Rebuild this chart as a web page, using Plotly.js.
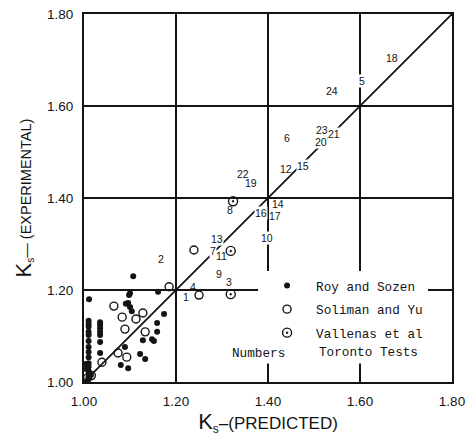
<!DOCTYPE html>
<html><head><meta charset="utf-8">
<script src="https://cdn.plot.ly/plotly-3.0.1.min.js"></script>
<style>html,body{margin:0;padding:0;background:#fff}</style>
</head><body><div id="chart" style="width:472px;height:440px"></div>
<script>
// Roy and Sozen (filled dots)
const roySozenX = [1.011,1.010,1.010,1.010,1.010,1.010,1.010,1.010,1.010,1.010,1.010,1.010,1.010,1.010,1.010,1.004,1.005,1.015,1.008,
  1.035,1.035,1.035,1.035,1.035,1.035,1.035,
  1.107,1.100,1.098,1.096,1.091,1.100,1.104,1.161,1.174,1.159,1.159,1.148,1.152,1.128,1.089,1.122,1.133,1.080,1.096];
const roySozenY = [1.180,1.133,1.126,1.120,1.109,1.102,1.089,1.076,1.065,1.054,1.041,1.033,1.024,1.017,1.011,1.039,1.028,1.015,1.004,
  1.130,1.124,1.117,1.109,1.102,1.087,1.063,
  1.230,1.193,1.189,1.172,1.170,1.163,1.154,1.196,1.148,1.128,1.109,1.093,1.089,1.091,1.076,1.061,1.050,1.037,1.030];
// Soliman and Yu (open circles)
const solimanYuX = [1.185,1.065,1.083,1.113,1.128,1.089,1.133,1.074,1.093,1.039,0.998,1.008,1.016,1.239,1.250];
const solimanYuY = [1.207,1.165,1.141,1.137,1.150,1.115,1.109,1.063,1.054,1.043,0.998,1.009,1.014,1.287,1.189];
// Vallenas et al (circle with dot)
const vallenasX = [1.319,1.319,1.324];
const vallenasY = [1.285,1.191,1.393];
// Toronto Tests (numbers)
const torontoLabels = ["1","2","3","4","5","6","7","8","9","10","11","12","13","14","15","16","17","18","19","20","21","22","23","24"];
const torontoX = [1.222,1.167,1.315,1.237,1.604,1.441,1.280,1.317,1.293,1.398,1.299,1.439,1.289,1.422,1.476,1.385,1.415,1.670,1.362,1.515,1.544,1.346,1.517,1.539];
const torontoY = [1.185,1.267,1.217,1.207,1.654,1.530,1.285,1.374,1.235,1.313,1.273,1.463,1.311,1.388,1.470,1.367,1.361,1.704,1.432,1.521,1.539,1.453,1.548,1.633];
// labels that interrupt the lines they sit on
const gapLabels = ["5","10","15","20","21","16","13","7"];
// line of equality
const equalX = [1.0,1.8];
const equalY = [1.0,1.8];
const tickVals = [1.0,1.2,1.4,1.6,1.8];
const tickLabels = ["1.00","1.20","1.40","1.60","1.80"];

const INK = '#141414';
const traces = [
  {x: equalX, y: equalY, mode: 'lines', line: {color: INK, width: 1.8}, showlegend: false, hoverinfo: 'skip'},
  {x: roySozenX, y: roySozenY, mode: 'markers', name: 'Roy and Sozen', legendgroup: 'a',
   marker: {symbol: 'circle', size: 6, color: INK}, cliponaxis: false},
  {x: solimanYuX, y: solimanYuY, mode: 'markers', name: 'Soliman and Yu', legendgroup: 'b',
   marker: {symbol: 'circle-open', size: 8, color: INK, line: {width: 1.4, color: INK}}, cliponaxis: false},
  {x: vallenasX, y: vallenasY, mode: 'markers', name: 'Vallenas et al', legendgroup: 'c',
   marker: {symbol: 'circle-open-dot', size: 9, color: INK, line: {width: 1.4, color: INK}}, cliponaxis: false}
];

const numFont = {family: 'Liberation Sans, Arial, sans-serif', size: 10.5, color: INK};
const mkNum = (i, bg) => ({
  x: torontoX[i], y: torontoY[i], xref: 'x', yref: 'y', text: torontoLabels[i], showarrow: false,
  font: numFont, bgcolor: bg, borderpad: 0
});
const annotations = [];
gapLabels.forEach(t => annotations.push(mkNum(torontoLabels.indexOf(t), '#ffffff')));
torontoLabels.forEach((t, i) => { if (gapLabels.indexOf(t) < 0) annotations.push(mkNum(i, 'rgba(0,0,0,0)')); });
annotations.push({x: 1.380, y: 1.063, xref: 'x', yref: 'y', text: 'Numbers', showarrow: false,
  font: {family: 'Liberation Mono, monospace', size: 12.7, color: INK}, bgcolor: '#ffffff', borderpad: 2});
annotations.push({x: 1.502, y: 1.065, xref: 'x', yref: 'y', xanchor: 'left', text: 'Toronto Tests', showarrow: false,
  font: {family: 'Liberation Mono, monospace', size: 12.7, color: INK}, bgcolor: '#ffffff', borderpad: 3});

const axisCommon = {
  range: [1.0, 1.8], tickvals: tickVals, ticktext: tickLabels, ticks: '',
  showgrid: true, gridcolor: INK, gridwidth: 1.3, zeroline: false,
  showline: true, mirror: true, linecolor: INK, linewidth: 2,
  tickfont: {family: 'Liberation Sans, Arial, sans-serif', size: 13.5, color: INK},
  fixedrange: true, automargin: false
};

const layout = {
  width: 472, height: 440,
  margin: {l: 84, r: 20, t: 14, b: 58},
  paper_bgcolor: '#ffffff', plot_bgcolor: '#ffffff',
  xaxis: Object.assign({}, axisCommon, {
    ticklabelstandoff: 6,
    title: {text: '<span style="font-size:22px">K</span><sub>s</sub>\u2013(PREDICTED)\u00a0\u00a0\u00a0', standoff: 5,
      font: {family: 'Liberation Sans, Arial, sans-serif', size: 17, color: INK}}
  }),
  yaxis: Object.assign({}, axisCommon, {
    ticklabelstandoff: 6,
    title: {text: '\u00a0\u00a0\u00a0\u00a0<span style="font-size:22px">K</span><sub>s</sub>\u2014 (EXPERIMENTAL)', standoff: 12,
      font: {family: 'Liberation Sans, Arial, sans-serif', size: 14.5, color: INK}}
  }),
  showlegend: true,
  legend: {x: 0.473, y: 0.302, xanchor: 'left', yanchor: 'top', bgcolor: '#ffffff', borderwidth: 0,
    itemwidth: 48, tracegroupgap: 4, font: {family: 'Liberation Mono, monospace', size: 12.7, color: INK}},
  annotations: annotations
};

Plotly.newPlot('chart', traces, layout, {displayModeBar: false, staticPlot: true});
</script></body></html>
